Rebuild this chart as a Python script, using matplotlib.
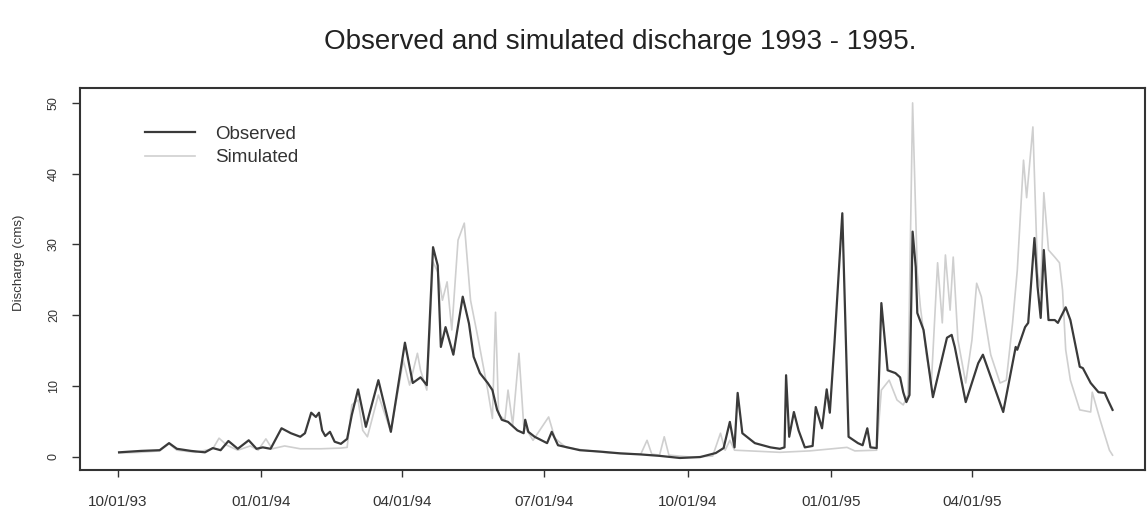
import numpy as np
import matplotlib
matplotlib.use("Agg")
import matplotlib.pyplot as plt
import matplotlib.dates as mdates
import matplotlib.ticker as mticker

plt.rcParams['font.family'] = ['Liberation Sans', 'DejaVu Sans']

start_date = np.datetime64('1993-10-01')

# Observed discharge (cms): day offset from 10/01/93, value
obs_day = [1, 15, 27, 33, 38, 47, 56, 61, 66, 71, 77, 84, 89, 93, 98, 105, 111, 117, 120,
           124, 127, 129, 131, 133, 136, 139, 143, 147, 150, 154, 159, 167, 175, 184, 189,
           194, 198, 202, 205, 207, 210, 215, 221, 225, 228, 232, 237, 240, 243, 246, 250,
           256, 260, 261, 263, 267, 275, 278, 282, 288, 296, 309, 322, 335, 347, 360, 373,
           383, 388, 392, 395, 397, 400, 408, 418, 424, 427, 428, 430, 433, 436, 440, 445,
           447, 451, 454, 456, 459, 464, 468, 474, 477, 480, 482, 486, 489, 493, 498, 501,
           503, 505, 507, 509, 511, 512, 516, 522, 531, 534, 536, 543, 551, 554, 567, 575,
           576, 581, 583, 587, 589, 591, 593, 596, 600, 602, 607, 610, 616, 618, 623, 628,
           632, 634, 637]
obs_val = [0.6, 0.8, 0.9, 1.9, 1.1, 0.8, 0.6, 1.2, 0.9, 2.2, 1.1, 2.3, 1.1, 1.3, 1.1, 4.0, 3.3, 2.8, 3.3,
           6.2, 5.6, 6.2, 3.7, 2.9, 3.5, 2.1, 1.8, 2.5, 5.9, 9.5, 4.2, 10.8, 3.5, 16.1, 10.4,
           11.2, 10.1, 29.6, 27.0, 15.5, 18.3, 14.4, 22.6, 18.8, 14.1, 11.8, 10.4, 9.4, 6.6, 5.2, 4.9,
           3.7, 3.3, 5.2, 3.5, 2.8, 1.9, 3.5, 1.6, 1.3, 0.9, 0.7, 0.45, 0.3, 0.1, -0.2, -0.07,
           0.5, 1.2, 4.9, 1.3, 9.0, 3.3, 1.9, 1.3, 1.1, 1.3, 11.5, 2.8, 6.3, 3.7, 1.3, 1.5,
           7.0, 4.0, 9.5, 6.2, 16.1, 34.4, 2.8, 1.9, 1.6, 4.0, 1.3, 1.2, 21.7, 12.2, 11.8, 11.2,
           9.1, 7.7, 8.7, 31.8, 26.8, 20.3, 17.9, 8.4, 16.8, 17.2, 15.5, 7.7, 13.2, 14.4, 6.3, 15.5,
           15.1, 18.3, 18.9, 30.9, 24.0, 19.6, 29.2, 19.3, 19.3, 18.9, 21.1, 19.3, 12.7, 12.5, 10.4, 9.1,
           9.0, 8.0, 6.6]

# Simulated discharge (cms)
sim_day = [1, 15, 27, 33, 38, 50, 61, 65, 70, 77, 85, 90, 95, 99, 107, 117, 130, 143, 147,
           150, 154, 157, 160, 167, 175, 183, 187, 192, 194, 198, 202, 205, 208, 211, 214,
           218, 222, 226, 231, 237, 240, 242, 244, 248, 250, 253, 257, 260, 266, 276, 280,
           287, 299, 315, 335, 339, 342, 347, 350, 353, 367, 381, 386, 389, 392, 395, 405,
           424, 443, 467, 472, 486, 489, 494, 499, 503, 506, 509, 512, 514, 518, 521, 525,
           528, 530, 533, 535, 538, 543, 547, 550, 553, 559, 565, 569, 573, 576, 580, 582,
           586, 589, 591, 593, 596, 600, 603, 605, 607, 610, 616, 623, 624, 629, 635, 637]
sim_val = [0.5, 0.6, 0.8, 1.8, 0.9, 0.6, 1.1, 2.6, 1.6, 0.9, 1.5, 0.9, 2.5, 1.1, 1.5, 1.1, 1.1, 1.2, 1.3,
           7.3, 8.0, 3.7, 2.8, 8.7, 3.5, 13.6, 10.1, 14.6, 12.2, 9.4, 27.5, 26.1, 22.1, 24.7, 17.9,
           30.6, 33.0, 22.1, 16.5, 9.4, 5.4, 20.4, 5.9, 5.2, 9.4, 4.5, 14.6, 4.5, 2.3, 5.6, 2.6,
           1.3, 0.9, 0.5, 0.35, 2.3, 0.35, 0.2, 2.8, 0.2, -0.07, 0.07, 3.3, 0.9, 2.3, 0.9, 0.8,
           0.6, 0.8, 1.3, 0.8, 0.9, 9.4, 10.8, 8.0, 7.3, 8.7, 50.0, 26.0, 21.1, 14.1, 10.4, 27.4,
           18.9, 28.5, 20.7, 28.2, 16.5, 10.4, 16.5, 24.5, 22.6, 14.4, 10.4, 10.8, 18.9, 26.3, 41.9, 36.6,
           46.6, 26.0, 23.5, 37.3, 29.2, 28.2, 27.4, 23.5, 15.1, 10.8, 6.6, 6.3, 9.1, 5.2, 0.9, 0.2]

series_labels = ['Observed', 'Simulated']
title_text = 'Observed and simulated discharge 1993 - 1995.'
y_label = 'Discharge (cms)'
y_ticks = [0, 10, 20, 30, 40, 50]
x_tick_dates = ['1993-10-01', '1994-01-01', '1994-04-01', '1994-07-01',
                '1994-10-01', '1995-01-01', '1995-04-01']

obs_dates = start_date + np.array(obs_day).astype('timedelta64[D]')
sim_dates = start_date + np.array(sim_day).astype('timedelta64[D]')

fig = plt.figure(figsize=(11.48, 5.19), dpi=100)
ax = fig.add_axes([0.0697, 0.0944, 0.928, 0.736])

ax.plot(sim_dates, sim_val, color='#cfcfcf', lw=1.2, label=series_labels[1], zorder=2)
ax.plot(obs_dates, obs_val, color='#3a3a3a', lw=1.6, label=series_labels[0], zorder=3)

ax.set_xlim(np.datetime64('1993-09-07'), np.datetime64('1995-07-21'))
ax.set_ylim(-1.9, 52.1)

ax.xaxis.set_major_locator(mticker.FixedLocator(
    mdates.date2num(np.array(x_tick_dates, dtype='datetime64[D]'))))
ax.xaxis.set_major_formatter(mdates.DateFormatter('%m/%d/%y'))
ax.set_yticks(y_ticks)

ax.tick_params(axis='x', direction='out', length=5, width=1.0, pad=13,
               labelsize=11, colors='#333333')
ax.tick_params(axis='y', direction='out', length=5.5, width=1.0, pad=9,
               labelsize=9, colors='#333333')
for lab in ax.get_yticklabels():
    lab.set_rotation(90)
    lab.set_va('center')

for sp in ax.spines.values():
    sp.set_linewidth(1.5)
    sp.set_color('#333333')

fig.text(19 / 1148, 0.493, y_label, rotation=90, ha='center', va='center',
         fontsize=9.5, color='#333333')
fig.text(0.54, 0.92, title_text, ha='center', va='center', fontsize=20, color='#222222')

handles, labels = ax.get_legend_handles_labels()
order = [1, 0]
ax.legend([handles[i] for i in order], [labels[i] for i in order],
          loc='upper left', bbox_to_anchor=(0.045, 0.945), frameon=False,
          fontsize=13.5, handlelength=2.67, handletextpad=1.1, labelspacing=0.33,
          labelcolor='#333333')

fig.savefig('out.png', dpi=100, facecolor='white')
